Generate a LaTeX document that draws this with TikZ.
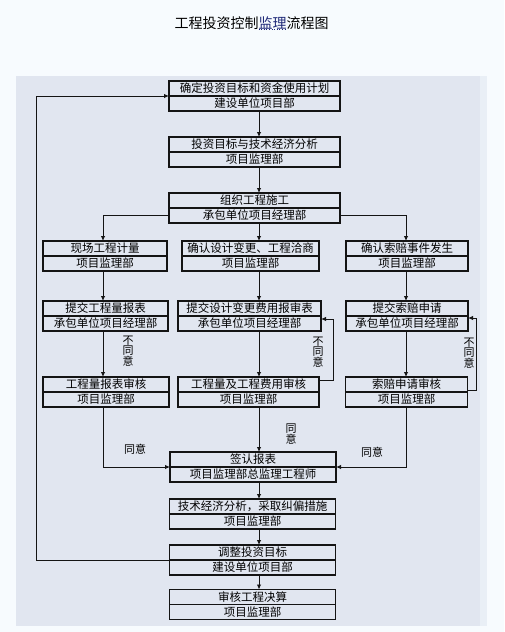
\documentclass[tikz,border=0pt]{standalone}
\usepackage{fontspec}
\newfontfamily\cjk{Noto Sans CJK SC}
\usetikzlibrary{calc}
\usetikzlibrary{arrows.meta}
\usetikzlibrary{positioning}
\definecolor{pagebg}{RGB}{247,251,254}
\definecolor{panelbg}{RGB}{225,230,240}
\definecolor{panelrim}{RGB}{233,239,246}
\definecolor{linkblue}{RGB}{28,38,118}
\definecolor{inkline}{RGB}{20,20,20}

\begin{document}
\begin{tikzpicture}[x=1pt, y=-1pt,
    font=\cjk\fontsize{11.5}{12}\selectfont,
    part/.style={draw=inkline, line width=1.1pt, minimum height=15pt, inner sep=0pt, outer sep=0pt, text=black},
    arr/.style={inkline, line width=0.9pt, -{Latex[length=5pt, width=4.5pt]}},
    vnote/.style={align=center, inner sep=0pt, text=black, font=\cjk\fontsize{11}{10.5}\selectfont},
    note/.style={inner sep=0pt, text=black, font=\cjk\fontsize{11}{12}\selectfont},
    titletext/.style={inner sep=0pt, outer sep=0pt, text=black, font=\cjk\fontsize{14}{16}\selectfont}]

    \useasboundingbox (0,0) rectangle (504,632);
    \fill [pagebg] (0,0) rectangle (504,632);
    \fill [panelbg] (16,76) rectangle (487,626);
    \fill [panelrim] (480,76) rectangle (487,626);

    % title
    \node [titletext, text=linkblue] (ttlmid) at (272.5, 23) {监理};
    \node [titletext, left=0pt of ttlmid] (ttlhead) {工程投资控制};
    \node [titletext, right=0pt of ttlmid] (ttltail) {流程图};
    \draw [linkblue, dotted, line width=0.6pt] (ttlmid.south west) -- (ttlmid.south east);

    \coordinate (colL) at (103, 0);
    \coordinate (colM) at (259, 0);
    \coordinate (colR) at (406, 0);
    \coordinate (backL) at (36, 0);
    \coordinate (backM) at (333, 0);
    \coordinate (backR) at (476, 0);

    % main spine
    \node [part, minimum width=171] (plan) at (254.5, 88.5) {确定投资目标和资金使用计划};
    \node [part, minimum width=171, below=0pt of plan] (plan2) {建设单位项目部};
    \node [part, minimum width=171] (analyse) at (254.5, 144.5) {投资目标与技术经济分析};
    \node [part, minimum width=171, below=0pt of analyse] (analyse2) {项目监理部};
    \node [part, minimum width=171] (build) at (254.5, 200.5) {组织工程施工};
    \node [part, minimum width=171, below=0pt of build] (build2) {承包单位项目经理部};

    % three branches
    \node [part, minimum width=124] (measure) at (105, 248.5) {现场工程计量};
    \node [part, minimum width=124, below=0pt of measure] (measure2) {项目监理部};
    \node [part, minimum width=137] (change) at (250.5, 248.5) {确认设计变更、工程洽商};
    \node [part, minimum width=137, below=0pt of change] (change2) {项目监理部};
    \node [part, minimum width=122] (claim) at (407, 248.5) {确认索赔事件发生};
    \node [part, minimum width=122, below=0pt of claim] (claim2) {项目监理部};

    \node [part, minimum width=125] (qtyrep) at (105.5, 308.5) {提交工程量报表};
    \node [part, minimum width=125, below=0pt of qtyrep] (qtyrep2) {承包单位项目经理部};
    \node [part, minimum width=143] (chgrep) at (249.5, 308.5) {提交设计变更费用报审表};
    \node [part, minimum width=143, below=0pt of chgrep] (chgrep2) {承包单位项目经理部};
    \node [part, minimum width=122] (clmrep) at (407, 308.5) {提交索赔申请};
    \node [part, minimum width=122, below=0pt of clmrep] (clmrep2) {承包单位项目经理部};

    \node [part, minimum width=126] (qtychk) at (106, 384.5) {工程量报表审核};
    \node [part, minimum width=126, below=0pt of qtychk] (qtychk2) {项目监理部};
    \node [part, minimum width=141] (costchk) at (248.5, 384.5) {工程量及工程费用审核};
    \node [part, minimum width=141, below=0pt of costchk] (costchk2) {项目监理部};
    \node [part, minimum width=122] (clmchk) at (406.5, 384.5) {索赔申请审核};
    \node [part, minimum width=122, below=0pt of clmchk] (clmchk2) {项目监理部};

    % lower spine
    \node [part, minimum width=166] (sign) at (253, 459.5) {签认报表};
    \node [part, minimum width=166, below=0pt of sign] (sign2) {项目监理部总监理工程师};
    \node [part, minimum width=166] (fix) at (252.5, 506.5) {技术经济分析，采取纠偏措施};
    \node [part, minimum width=166, below=0pt of fix] (fix2) {项目监理部};
    \node [part, minimum width=166] (adjust) at (252.5, 552.5) {调整投资目标};
    \node [part, minimum width=166, below=0pt of adjust] (adjust2) {建设单位项目部};
    \node [part, minimum width=166] (final) at (252.5, 597) {审核工程决算};
    \node [part, minimum width=166, below=0pt of final] (final2) {项目监理部};

    \draw [arr] (plan2.south -| colM) -- (analyse.north -| colM);
    \draw [arr] (analyse2.south -| colM) -- (build.north -| colM);
    \draw [arr] (build2.south -| colM) -- (change.north -| colM);
    \draw [arr] (build2.west) -| (measure.north -| colL);
    \draw [arr] (build2.east) -| (claim.north -| colR);

    \draw [arr] (measure2.south -| colL) -- (qtyrep.north -| colL);
    \draw [arr] (change2.south -| colM) -- (chgrep.north -| colM);
    \draw [arr] (claim2.south -| colR) -- (clmrep.north -| colR);
    \draw [arr] (qtyrep2.south -| colL) -- (qtychk.north -| colL);
    \draw [arr] (chgrep2.south -| colM) -- (costchk.north -| colM);
    \draw [arr] (clmrep2.south -| colR) -- (clmchk.north -| colR);

    % send back when not agreed
    \coordinate (costout) at ([yshift=-3pt]costchk.north east);
    \coordinate (chgin) at ([yshift=-3pt]chgrep.south east);
    \draw [arr] (costout) -- (costout -| backM) |- (chgin);
    \coordinate (clmout) at ([yshift=2pt]clmchk.south east);
    \coordinate (clmin) at ([yshift=-2pt]clmrep.south east);
    \draw [arr] (clmout) -- (clmout -| backR) |- (clmin);

    \draw [arr] (qtychk2.south -| colL) |- (sign.south west);
    \draw [arr] (costchk2.south -| colM) -- (sign.north -| colM);
    \draw [arr] (clmchk2.south -| colR) |- (sign.south east);
    \draw [arr] (sign2.south -| colM) -- (fix.north -| colM);
    \draw [arr] (fix2.south -| colM) -- (adjust.north -| colM);
    \draw [arr] (adjust2.south -| colM) -- (final.north -| colM);
    \draw [arr] (adjust.south west) -- (adjust.south west -| backL) |- (plan.south west);

    \node [vnote] (nayL) at (128, 351) {不\\同\\意};
    \node [vnote] (nayM) at (318, 352) {不\\同\\意};
    \node [vnote] (nayR) at (469, 353) {不\\同\\意};
    \node [note] (yesL) at (135, 449) {同意};
    \node [vnote] (yesM) at (291, 434) {同\\意};
    \node [note] (yesR) at (372, 452) {同意};
\end{tikzpicture}
\end{document}
